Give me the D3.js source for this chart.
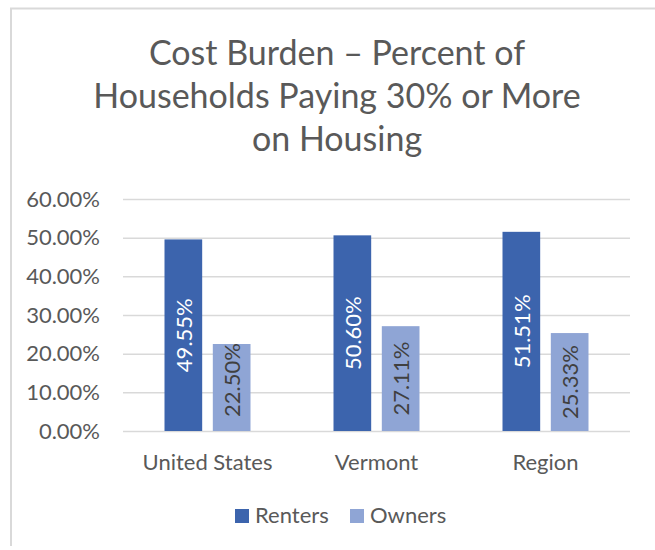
<!DOCTYPE html>
<html>
<head>
<meta charset="utf-8">
<script src="https://d3js.org/d3.v7.min.js"></script>
<style>
  body { margin: 0; background: #fff; }
  text { font-family: Lato, "Open Sans", sans-serif; fill: #595959; }
</style>
</head>
<body>
<div id="chart"></div>
<script>
var categories = ["United States", "Vermont", "Region"];
var seriesNames = ["Renters", "Owners"];
var renters = [49.55, 50.60, 51.51];
var owners = [22.50, 27.11, 25.33];
var yTicks = [0, 10, 20, 30, 40, 50, 60];
var titleLines = ["Cost Burden \u2013 Percent of", "Households Paying 30% or More", "on Housing"];

var colors = ["#3c64ad", "#8fa5d5"],
    labelFill = ["#ffffff", "#404040"];

var w = 655,
    h = 550,
    plotLeft = 123,
    plotRight = 630,
    plotTop = 199,
    plotBottom = 431;

var svg = d3.select("#chart")
    .append("svg")
    .attr("width", w)
    .attr("height", h);

// chart frame (only left and top edges are in view)
svg.append("path")
    .attr("d", "M11,546V8.5H655")
    .attr("fill", "none")
    .attr("stroke", "#d9d9d9")
    .attr("stroke-width", 2);

svg.append("g").selectAll("text")
    .data(titleLines)
    .enter().append("text")
    .attr("x", 337)
    .attr("y", function(d, i) { return 65 + i * 43; })
    .attr("text-anchor", "middle")
    .style("font-size", "34px")
    .text(function(d) { return d; });

var y = d3.scaleLinear().domain([0, 60]).range([plotBottom, plotTop]);
var x0 = d3.scaleBand().domain(categories).range([plotLeft, plotRight]);
var groupW = 86;
var x1 = d3.scaleBand().domain(seriesNames).range([0, groupW]).paddingInner(0.22);

// gridlines
var grid = svg.append("g")
    .attr("transform", "translate(" + plotLeft + ",0)")
    .call(d3.axisLeft(y).tickValues(yTicks).tickSize(-(plotRight - plotLeft)).tickFormat(""));
grid.select(".domain").remove();
grid.selectAll("line").attr("stroke", "#d9d9d9").attr("stroke-width", 1.5);

// y labels
var yAxis = svg.append("g")
    .attr("transform", "translate(" + plotLeft + ",0)")
    .call(d3.axisLeft(y).tickValues(yTicks).tickSize(0).tickPadding(23)
      .tickFormat(function(d) { return d.toFixed(2) + "%"; }));
yAxis.select(".domain").remove();
yAxis.attr("font-family", null).attr("font-size", null);
yAxis.selectAll("text").style("font-size", "22px").attr("fill", "#595959");

// x labels
var xAxis = svg.append("g")
    .attr("transform", "translate(0," + plotBottom + ")")
    .call(d3.axisBottom(x0).tickSize(0));
xAxis.select(".domain").remove();
xAxis.attr("font-family", null).attr("font-size", null);
xAxis.selectAll("text").attr("y", 39).attr("dy", 0)
    .style("font-size", "22px").attr("fill", "#595959");

var rows = categories.map(function(c, i) {
  return { cat: c, values: [renters[i], owners[i]] };
});

var groups = svg.append("g").selectAll("g")
    .data(rows)
    .enter().append("g")
    .attr("transform", function(d) {
      return "translate(" + (x0(d.cat) + (x0.bandwidth() - groupW) / 2) + ",0)";
    });

var bars = groups.selectAll("g")
    .data(function(d) { return d.values.map(function(v, j) { return { s: j, v: v }; }); })
    .enter().append("g");

bars.append("rect")
    .attr("x", function(d) { return x1(seriesNames[d.s]); })
    .attr("y", function(d) { return y(d.v); })
    .attr("width", x1.bandwidth())
    .attr("height", function(d) { return y(0) - y(d.v); })
    .attr("fill", function(d) { return colors[d.s]; });

// labels sit mid-bar, or hug the top when the bar is too short
bars.append("text")
    .attr("transform", function(d) {
      var cx = x1(seriesNames[d.s]) + x1.bandwidth() / 2;
      var barH = y(0) - y(d.v);
      var cy = barH < 90 ? y(d.v) + 36 : (y(d.v) + y(0)) / 2;
      return "translate(" + cx + "," + cy + ")rotate(-90)";
    })
    .attr("text-anchor", "middle")
    .attr("dominant-baseline", "central")
    .style("font-size", "22px")
    .style("fill", function(d) { return labelFill[d.s]; })
    .text(function(d) { return d.v.toFixed(2) + "%"; });

// legend
var legend = svg.append("g").selectAll("g")
    .data(seriesNames)
    .enter().append("g")
    .attr("transform", function(d, i) { return "translate(" + (235 + i * 115) + ",509)"; });

legend.append("rect")
    .attr("width", 14)
    .attr("height", 14)
    .attr("fill", function(d, i) { return colors[i]; });

legend.append("text")
    .attr("x", 20)
    .attr("y", 14)
    .style("font-size", "22px")
    .text(function(d) { return d; });
</script>
</body>
</html>
